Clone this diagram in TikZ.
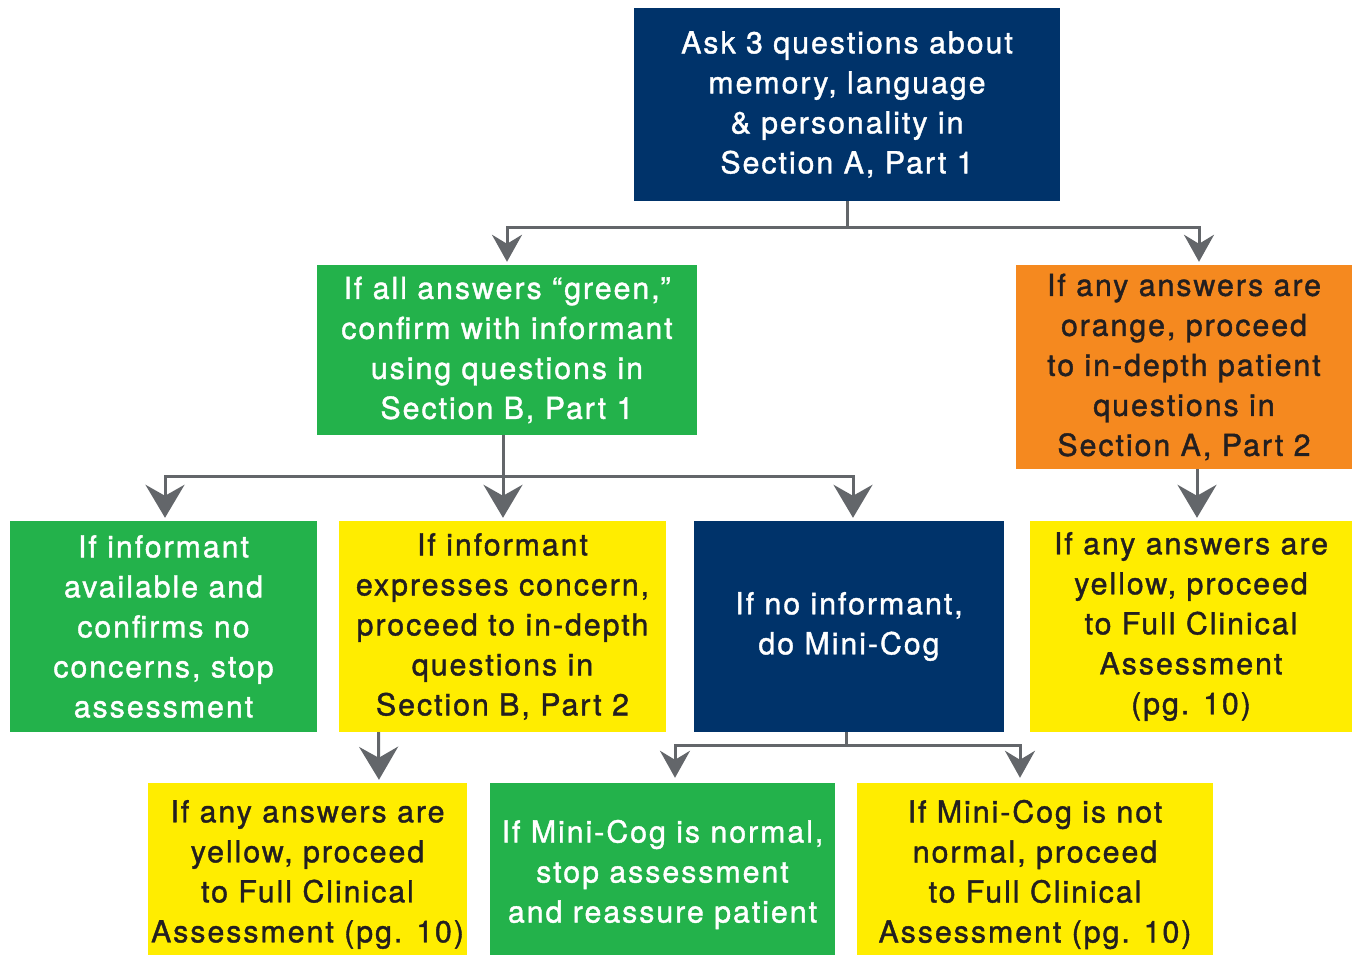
\documentclass[tikz,border=0pt]{standalone}
\usepackage{fontspec}
\setmainfont{TeX Gyre Heros}[LetterSpace=6.5, FakeBold=1.3]
\usetikzlibrary{arrows.meta}

\definecolor{navy}{HTML}{00336A}
\definecolor{leaf}{HTML}{23B24B}
\definecolor{lemon}{HTML}{FFED00}
\definecolor{amber}{HTML}{F5891F}
\definecolor{ink}{HTML}{231F20}
\definecolor{steel}{HTML}{63666A}

\begin{document}
\begin{tikzpicture}[x=1pt, y=-1pt]
    \tikzset{
      box/.style = {rectangle, inner sep=0pt, align=center,
                    font=\fontsize{30.3}{40}\selectfont},
      dark/.style = {box, fill=navy, text=white},
      go/.style = {box, fill=leaf, text=white},
      warn/.style = {box, fill=lemon, text=ink},
      alert/.style = {box, fill=amber, text=ink},
      link/.style = {draw=steel, line width=3pt, shorten >=3pt},
      arr/.style = {link, -{Stealth[length=27pt, width=30pt, inset=9pt]}},
      bigarr/.style = {link, -{Stealth[length=33pt, width=39pt, inset=11pt]}}
    }
    \useasboundingbox (0,0) rectangle (1353,955);

    % Vertices
    \node[dark, minimum width=426pt, minimum height=193pt] (ask) at (847,104.5)
      {Ask 3 questions about\\memory, language\\\& personality in\\Section A, Part 1};

    \node[go, minimum width=380pt, minimum height=170pt] (confirm) at (507,350)
      {If all answers “green,”\\confirm with informant\\using questions in\\Section B, Part 1};
    \node[alert, minimum width=336pt, minimum height=204pt] (orange) at (1184,367)
      {If any answers are\\orange, proceed\\to in-depth patient\\questions in\\Section A, Part 2};

    \node[go, minimum width=307pt, minimum height=211pt] (stop) at (163.5,626.5)
      {If informant\\available and\\confirms no\\concerns, stop\\assessment};
    \node[warn, minimum width=327pt, minimum height=211pt] (concern) at (502.5,626.5)
      {If informant\\expresses concern,\\proceed to in-depth\\questions in\\Section B, Part 2};
    \node[dark, minimum width=310pt, minimum height=211pt] (nocog) at (849,626.5)
      {If no informant,\\do Mini-Cog};
    \node[warn, minimum width=322pt, minimum height=211pt] (yright) at (1191,626.5)
      {If any answers are\\yellow, proceed\\to Full Clinical\\Assessment\\(pg. 10)};

    % bottom row runs past the lower edge
    \node[warn, minimum width=319pt, minimum height=183pt] (yleft) at (307.5,874.5)
      {If any answers are\\yellow, proceed\\to Full Clinical\\Assessment (pg. 10)};
    \node[go, minimum width=345pt, minimum height=183pt] (normal) at (662.5,874.5)
      {If Mini-Cog is normal,\\stop assessment\\and reassure patient};
    \node[warn, minimum width=356pt, minimum height=183pt] (notnormal) at (1035,874.5)
      {If Mini-Cog is not\\normal, proceed\\to Full Clinical\\Assessment (pg. 10)};

    % Edges
    % (ask,b)
    \draw[arr] (ask.south) -- ++(0,26) -| (confirm.north);
    \draw[arr] (ask.south) -- ++(0,26) -| ([xshift=15pt]orange.north);

    % (confirm,b)
    \draw[bigarr] ([xshift=-4pt]confirm.south) -- ++(0,41) -| ([xshift=1.5pt]stop.north);
    \draw[bigarr] ([xshift=-4pt]confirm.south) -- ([xshift=0.5pt]concern.north);
    \draw[bigarr] ([xshift=-4pt]confirm.south) -- ++(0,41) -| ([xshift=4pt]nocog.north);

    % (orange,b)
    \draw[bigarr] ([xshift=13pt]orange.south) -- ([xshift=6pt]yright.north);

    % (concern,b)
    \draw[bigarr] ([xshift=-124pt]concern.south) -- ([xshift=71.5pt]yleft.north);

    % (nocog,b)
    \draw[arr, shorten >=5pt] ([xshift=-3pt]nocog.south) -- ++(0,13) -| ([xshift=12.5pt]normal.north);
    \draw[arr, shorten >=5pt] ([xshift=-3pt]nocog.south) -- ++(0,13) -| ([xshift=-15pt]notnormal.north);

\end{tikzpicture}
\end{document}
